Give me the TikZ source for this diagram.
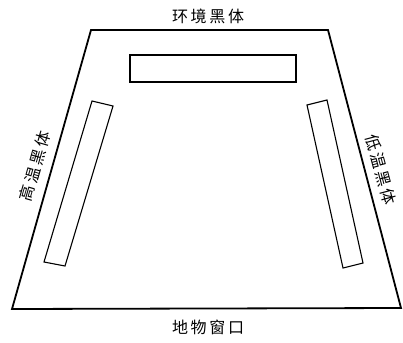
\documentclass[tikz,border=0pt]{standalone}
\usepackage{fontspec}
\newfontfamily\cjk{Noto Sans CJK SC}
\begin{document}
\begin{tikzpicture}[x=1pt,y=-1pt,
  frame/.style={line width=1.8pt,line join=miter},
  panel/.style={line width=1.1pt,line join=miter},
  lbl/.style={font=\cjk\fontsize{16}{16}\selectfont,inner sep=0pt}]
\useasboundingbox (0,0) rectangle (403,342);
\coordinate (tl) at (91,30);
\coordinate (tr) at (328,30);
\coordinate (br) at (401,308);
\coordinate (bl) at (12,309);
\draw[frame] (tl) -- (tr) -- (br) -- (bl) -- cycle;
\draw[panel] (130,55) rectangle (296,82);
\draw[panel] (92,101) -- (113,106) -- (65,266) -- (44,262) -- cycle;
\draw[panel] (307,105) -- (327,100) -- (363,263) -- (343,268) -- cycle;
\node[lbl] (top) at (208,16) {环\,境\,黑\,体};
\node[lbl] (bot) at (208,327) {地\,物\,窗\,口};
\node[lbl,rotate=74] (left) at (35,166) {高\,温\,黑\,体};
\node[lbl,rotate=-75] (right) at (381,170) {低\,温\,黑\,体};
\end{tikzpicture}
\end{document}
